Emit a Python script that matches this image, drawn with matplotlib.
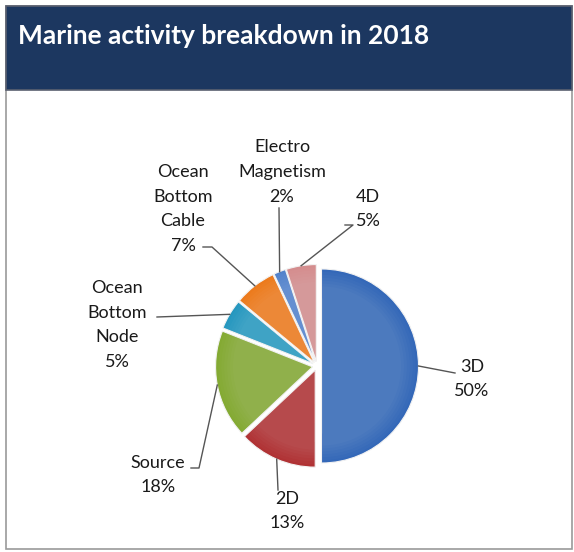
import matplotlib.pyplot as plt
import numpy as np
from matplotlib.patches import Rectangle, Wedge

# data, clockwise from 12 o'clock
labels = ["3D", "2D", "Source", "Ocean\nBottom\nNode", "Ocean\nBottom\nCable", "Electro\nMagnetism", "4D"]
shares = [50, 13, 18, 5, 7, 2, 5]
colors = ["#3468b8", "#b03234", "#84aa33", "#2597bf", "#ec7a1c", "#5283cb", "#d48d8e"]

W, H = 574, 552
fig = plt.figure(figsize=(W / 100, H / 100), dpi=100)
ax = fig.add_axes([0, 0, 1, 1])

def Y(y):  # picture row -> data y
    return H - y

# frame + title bar
ax.add_patch(Rectangle((6, Y(549)), 566, 543, fc="white", ec="#9a9a9a", lw=1.2))
ax.add_patch(Rectangle((6, Y(90)), 566, 84, fc="#1c3760", ec="#5a6070", lw=1.2))
ax.text(18, Y(36), "Marine activity breakdown in 2018", color="white", fontsize=19,
        fontweight="bold", family="Lato", va="center", ha="left")

cx, cy, r = 317, Y(366), 97
wedges, _ = ax.pie(shares, colors=colors, startangle=90, counterclock=False,
                   center=(cx, cy), radius=r, explode=[4.5] * len(shares),
                   wedgeprops=dict(ec="#f2f2f2", lw=0.8), frame=True)
# soft shading to mimic the bevelled look
for w in wedges:
    for k in range(6):
        ax.add_patch(Wedge(w.center, w.r * (0.97 - 0.03 * k), w.theta1 + 0.5, w.theta2 - 0.5,
                           fc="white", alpha=0.022, lw=0))
ax.set_xlim(0, W)
ax.set_ylim(0, H)
ax.set_aspect("equal")
ax.axis("off")

# label text positions (picture coords) and leader line ends
text_pos = [(472, 379), (287, 511), (158, 475), (117, 325), (183, 209), (282, 172), (368, 209)]
elbow = [(455, 373), (278, 490), (199, 468), (157, 317), (212, 247), (279, 208), (353, 225)]
extra = [None, None, (191, 468), None, (203, 247), None, (345, 225)]

for w, lab, s, tp, el, ex in zip(wedges, labels, shares, text_pos, elbow, extra):
    mid = np.deg2rad((w.theta1 + w.theta2) / 2)
    x0 = w.center[0] + w.r * np.cos(mid)
    y0 = w.center[1] + w.r * np.sin(mid)
    xs = [x0, el[0]]
    ys = [y0, Y(el[1])]
    if ex is not None:
        xs.append(ex[0])
        ys.append(Y(ex[1]))
    ax.plot(xs, ys, color="#555555", lw=1)
    ax.text(tp[0], Y(tp[1]), f"{lab}\n{s}%", ha="center", va="center", fontsize=13,
            family="Lato", color="#1a1a1a", linespacing=1.68)

fig.savefig("out.png", dpi=100)
